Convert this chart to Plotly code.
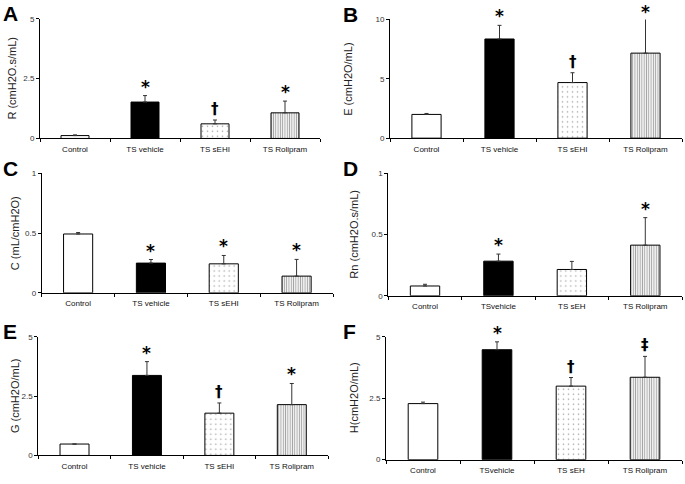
import plotly.graph_objects as go

W, H = 685, 484

categories_std = ["Control", "TS vehicle", "TS sEHI", "TS Rolipram"]
categories_alt = ["Control", "TSvehicle", "TS sEH", "TS Rolipram"]

R_vals = [0.12, 1.52, 0.61, 1.07]
R_err = [0.03, 0.27, 0.16, 0.49]
R_marks = ["", "*", "†", "*"]

E_vals = [2.0, 8.35, 4.68, 7.16]
E_err = [0.08, 1.15, 0.83, 2.95]
E_marks = ["", "*", "†", "*"]

C_vals = [0.493, 0.249, 0.243, 0.14]
C_err = [0.012, 0.03, 0.07, 0.14]
C_marks = ["", "*", "*", "*"]

Rn_vals = [0.08, 0.283, 0.215, 0.414]
Rn_err = [0.014, 0.058, 0.066, 0.225]
Rn_marks = ["", "*", "", "*"]

G_vals = [0.48, 3.37, 1.78, 2.14]
G_err = [0.0, 0.58, 0.43, 0.89]
G_marks = ["", "*", "†", "*"]

Hh_vals = [2.28, 4.47, 2.99, 3.35]
Hh_err = [0.06, 0.32, 0.35, 0.85]
Hh_marks = ["", "*", "†", "‡"]

y_ticks_5 = [0, 2.5, 5]
y_ticks_10 = [0, 5, 10]
y_ticks_1 = [0, 0.5, 1]

panels = [
    dict(letter="A", title="R (cmH2O.s/mL)", cats=categories_std, vals=R_vals, err=R_err, marks=R_marks,
         ticks=y_ticks_5, px=(40, 320), py=(15, 137), tx=12, lx=1),
    dict(letter="B", title="E (cmH2O/mL)", cats=categories_std, vals=E_vals, err=E_err, marks=E_marks,
         ticks=y_ticks_10, px=(390, 682), py=(15.7, 136.7), tx=348, lx=341),
    dict(letter="C", title="C (mL/cmH2O)", cats=categories_std, vals=C_vals, err=C_err, marks=C_marks,
         ticks=y_ticks_1, px=(41.7, 333), py=(172.7, 294.3), tx=15, lx=1),
    dict(letter="D", title="Rn (cmH2O.s/mL)", cats=categories_alt, vals=Rn_vals, err=Rn_err, marks=Rn_marks,
         ticks=y_ticks_1, px=(388.3, 682), py=(172.7, 297.3), tx=354, lx=341),
    dict(letter="E", title="G (cmH2O/mL)", cats=categories_std, vals=G_vals, err=G_err, marks=G_marks,
         ticks=y_ticks_5, px=(38.3, 328), py=(339, 460), tx=15, lx=1),
    dict(letter="F", title="H(cmH2O/mL)", cats=categories_alt, vals=Hh_vals, err=Hh_err, marks=Hh_marks,
         ticks=y_ticks_5, px=(386, 682), py=(339, 464.3), tx=354, lx=341),
]

fills = ["white", "black", "white", "white"]
pattern = dict(
    shape=["", "", ".", "|"],
    fgcolor=["black", "black", "#666666", "black"],
    bgcolor=["white", "black", "white", "white"],
    size=[4, 4, 5, 2.3],
    solidity=[0.2, 0.2, 0.08, 0.45],
)

fig = go.Figure()
layout = dict(
    width=W, height=H, margin=dict(l=0, r=0, t=0, b=0),
    paper_bgcolor="white", plot_bgcolor="white", showlegend=False,
    font=dict(family="Liberation Sans, Arial, sans-serif", color="black"),
)
annotations = []

for i, p in enumerate(panels):
    n = "" if i == 0 else str(i + 1)
    xa, ya = "x" + n, "y" + n
    ymax = p["ticks"][-1]
    fig.add_trace(go.Bar(
        x=p["cats"], y=p["vals"], xaxis=xa, yaxis=ya, width=0.4,
        marker=dict(color=fills, line=dict(color="black", width=1), pattern=pattern),
        error_y=dict(type="data", array=p["err"], arrayminus=[0] * 4, symmetric=False,
                     color="#333333", thickness=1, width=2),
    ))
    for c, v, e, m in zip(p["cats"], p["vals"], p["err"], p["marks"]):
        if not m:
            continue
        star = m == "*"
        frac = (v + e) / ymax
        shift = (-3 if star else 0) if frac < 1 else -6
        annotations.append(dict(
            text=m, xref=xa, yref=ya + " domain", x=c, y=frac,
            showarrow=False, xanchor="center", yanchor="bottom", yshift=shift,
            font=dict(size=17 if star else 15, color="black",
                      family="DejaVu Sans, Liberation Sans, sans-serif", weight="bold"),
        ))
    layout["xaxis" + n] = dict(
        domain=[p["px"][0] / W, p["px"][1] / W], anchor=ya, type="category",
        categoryorder="array", categoryarray=p["cats"],
        tickson="boundaries", ticks="outside", ticklen=3, tickcolor="black",
        showline=True, linecolor="black", linewidth=1, showgrid=False,
        tickfont=dict(size=8, color="#111111"), ticklabelstandoff=3, fixedrange=True,
    )
    layout["yaxis" + n] = dict(
        domain=[1 - p["py"][1] / H, 1 - p["py"][0] / H], anchor=xa,
        range=[0, ymax], tickvals=p["ticks"], ticktext=[f"{t:g}" for t in p["ticks"]],
        ticks="outside", ticklen=3, tickcolor="black", showline=True, linecolor="black",
        linewidth=1, showgrid=False, zeroline=False, tickfont=dict(size=8, color="#333333"),
        fixedrange=True,
    )
    annotations.append(dict(
        text=p["title"], xref="paper", yref="paper", x=p["tx"] / W,
        y=1 - (p["py"][0] + p["py"][1]) / 2 / H, textangle=-90, showarrow=False,
        font=dict(size=11, color="#222222"), xanchor="center", yanchor="middle",
    ))
    annotations.append(dict(
        text="<b>" + p["letter"] + "</b>", xref="paper", yref="paper", x=p["lx"] / W,
        y=1 - (p["py"][0] - 19) / H, showarrow=False, xanchor="left", yanchor="top",
        font=dict(size=21, color="black"),
    ))

layout["annotations"] = annotations
fig.update_layout(**layout)
fig.write_html("out.html", config={"displayModeBar": False},
               post_script="document.body.style.margin='0';")
